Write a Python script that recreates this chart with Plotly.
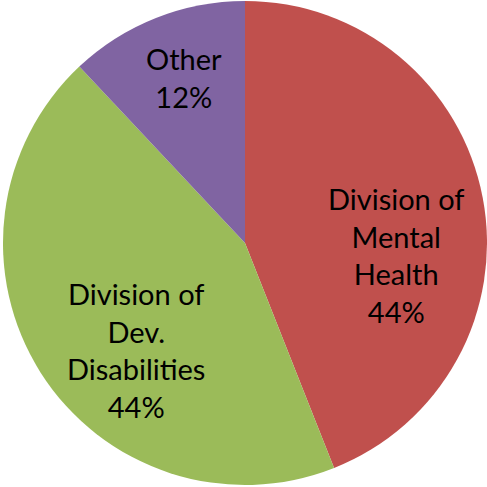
import plotly.graph_objects as go

labels = ["Division of Mental Health", "Division of Dev. Disabilities", "Other"]
values = [44, 44, 12]
colors = ["#C0504D", "#9BBB59", "#8064A2"]
label_text = ["Division of<br>Mental<br>Health<br>44%",
              "Division of<br>Dev.<br>Disabilities<br>44%",
              "Other<br>12%"]
# label centres in pixels (x, y from top), as placed in the original
label_pos = [(395.5, 256), (134, 351), (182.5, 77)]

W = H = 487

fig = go.Figure(go.Pie(
    labels=labels,
    values=values,
    sort=False,
    direction="clockwise",
    rotation=0,
    marker=dict(colors=colors, line=dict(width=0)),
    textinfo="none",
    hoverinfo="label+percent",
    domain=dict(x=[0, 1], y=[0, 1]),
))

for txt, (px_, py_) in zip(label_text, label_pos):
    fig.add_annotation(
        xref="paper", yref="paper",
        x=px_ / W, y=1 - py_ / H,
        text=txt, showarrow=False,
        xanchor="center", yanchor="middle",
        align="center",
        font=dict(family="Lato", size=29, color="black"),
    )

fig.update_layout(
    width=W, height=H,
    margin=dict(l=3, r=0, t=1, b=2),
    paper_bgcolor="white",
    plot_bgcolor="white",
    showlegend=False,
)

# page body has an 8px default margin; drop it so the chart fills the window
fig.write_html("out.html", config={"displayModeBar": False},
               post_script="document.body.style.margin='0';")
